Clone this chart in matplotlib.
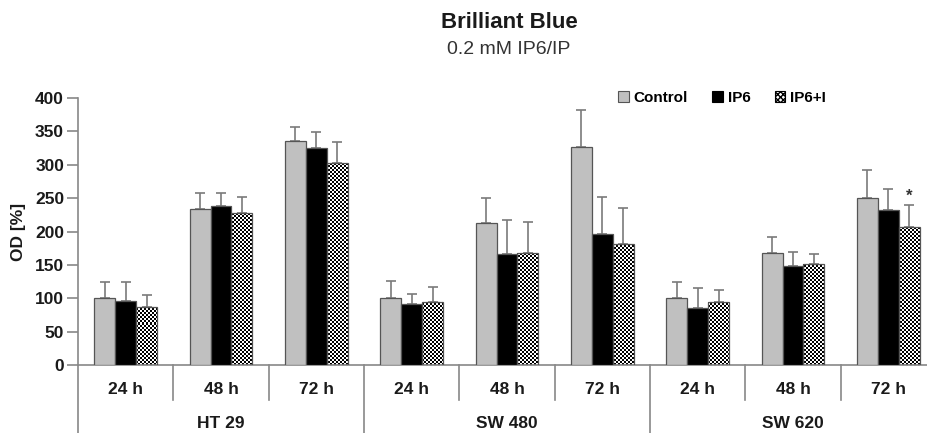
import matplotlib
matplotlib.use("Agg")
import matplotlib.pyplot as plt
from matplotlib.patches import Patch
import numpy as np

plt.rcParams["font.family"] = ["Liberation Sans", "DejaVu Sans"]

times = ["24 h", "48 h", "72 h"] * 3
cell_lines = ["HT 29", "SW 480", "SW 620"]
series = ["Control", "IP6", "IP6+I"]

control = [100, 233, 335, 101, 212, 326, 101, 168, 250]
control_err = [25, 24, 22, 25, 38, 56, 23, 24, 42]
ip6 = [96, 238, 325, 91, 166, 196, 86, 148, 232]
ip6_err = [29, 19, 24, 16, 51, 56, 29, 21, 32]
ip6i = [87, 228, 303, 95, 168, 182, 94, 151, 206]
ip6i_err = [18, 24, 31, 22, 46, 53, 18, 16, 33]

W, H = 927, 433
fig = plt.figure(figsize=(W / 100, H / 100), dpi=100)
ax = fig.add_axes([78 / W, 1 - 365 / H, 858 / W, 267 / H])

x = np.arange(len(times)) + 1
bw = 0.22
edge = "#555555"
err_col = "#7a7a7a"

b1 = ax.bar(x - bw, control, bw, color="#c0c0c0", edgecolor=edge, linewidth=0.9, zorder=3)
b2 = ax.bar(x, ip6, bw, color="black", edgecolor=edge, linewidth=0.9, zorder=3)
b3 = ax.bar(x + bw, ip6i, bw, facecolor="none", edgecolor=edge, linewidth=0.9, zorder=3)

# checkerboard fill for IP6+I bars
nx, ny = 429, 134
checker = np.indices((ny, nx)).sum(axis=0) % 2
for bar in b3:
    im = ax.imshow(checker, cmap="gray", extent=(0.5, 9.5, 0, 400), origin="lower",
                   aspect="auto", interpolation="nearest", zorder=2.5)
    im.set_clip_path(bar)

for off, vals, errs in [(-bw, control, control_err), (0, ip6, ip6_err), (bw, ip6i, ip6i_err)]:
    ax.errorbar(x + off, vals, yerr=[np.zeros(len(vals)), errs], fmt="none",
                ecolor=err_col, elinewidth=1.2, capsize=3.5, capthick=1.2, zorder=2)

ax.text(x[-1] + bw, ip6i[-1] + ip6i_err[-1] + 2, "*", ha="center", va="bottom",
        fontsize=12, fontweight="bold", color="#333333")

ax.set_xlim(0.5, 9.5)
ax.set_ylim(0, 400)
ax.set_yticks(range(0, 401, 50))
ax.set_xticks([])
for lab in ax.get_yticklabels():
    lab.set_fontweight("bold")
ax.tick_params(axis="y", direction="out", length=8, width=1.2, color="#888888",
               labelsize=12.5, labelcolor="#1a1a1a", pad=2)

for side in ["top", "right"]:
    ax.spines[side].set_visible(False)
for side in ["left", "bottom"]:
    ax.spines[side].set_color("#888888")
    ax.spines[side].set_linewidth(1.2)

# category axis below the plot
px = 267 / 400
short_y = -35 / px
long_y = -70 / px
ax.plot([0.5, 0.5], [0, long_y], color="#888888", lw=1.2, clip_on=False)
for k in range(1, len(times)):
    yb = long_y if k % 3 == 0 else short_y
    ax.plot([0.5 + k, 0.5 + k], [0, yb], color="#888888", lw=1.2, clip_on=False)
for xi, t in zip(x, times):
    ax.text(xi, -25 / px, t, ha="center", va="center", fontsize=12.5,
            fontweight="bold", color="#1a1a1a")
for i, name in enumerate(cell_lines):
    ax.text(2 + 3 * i, -59 / px, name, ha="center", va="center", fontsize=12.5,
            fontweight="bold", color="#1a1a1a")

fig.text(18 / W, 1 - 232 / H, "OD [%]", rotation=90, ha="center", va="center",
         fontsize=12.5, fontweight="bold", color="#1a1a1a")

fig.text(509 / W, 1 - 22 / H, "Brilliant Blue", ha="center", va="center",
         fontsize=16, fontweight="bold", color="#1a1a1a")
fig.text(509 / W, 1 - 50 / H, "0.2 mM IP6/IP", ha="center", va="center",
         fontsize=14, color="#333333")

handles = [
    Patch(facecolor="#c0c0c0", edgecolor=edge, linewidth=0.8),
    Patch(facecolor="black", edgecolor="black", linewidth=0.8),
    Patch(facecolor="white", edgecolor="black", hatch="xxxxxx", linewidth=0.8),
]
fig.legend(handles, series, loc="center", bbox_to_anchor=(722 / W, 1 - 98 / H), ncol=3,
           frameon=False, prop={"weight": "bold", "size": 11}, handlelength=0.7,
           handleheight=0.7, handletextpad=0.3, columnspacing=1.6)

fig.savefig("out.png", dpi=100)
